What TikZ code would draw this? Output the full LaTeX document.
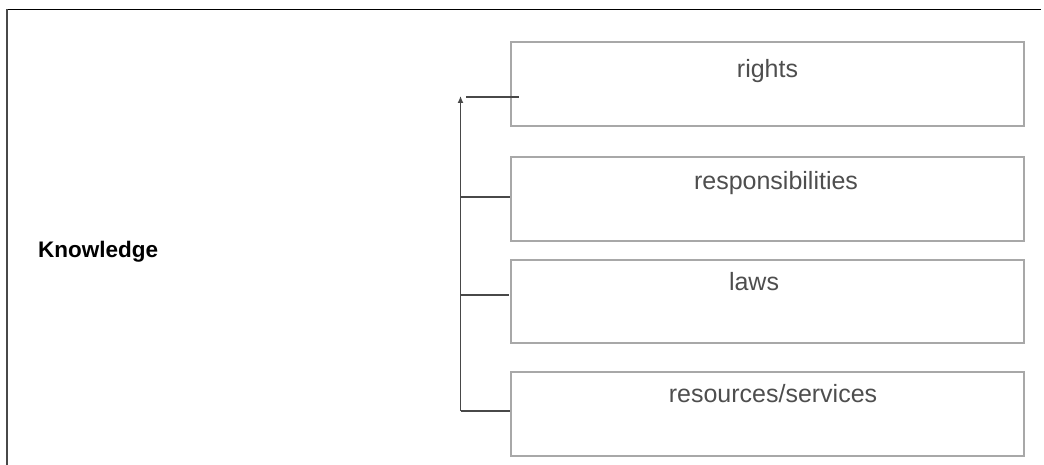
\documentclass[tikz,border=0pt]{standalone}
\usepackage{fontspec}
\setmainfont{Liberation Sans}
\usetikzlibrary{arrows.meta}
\definecolor{boxgray}{HTML}{A8A8A8}
\definecolor{linegray}{HTML}{484848}
\definecolor{txtgray}{HTML}{4E4E4E}
\tikzset{
  itembox/.style={draw=boxgray, line width=1.6pt, inner sep=0pt},
  itemtext/.style={text=txtgray, font=\fontsize{25}{29}\selectfont, anchor=base, inner sep=0pt},
  conn/.style={draw=linegray, line width=1.3pt},
  frame/.style={line width=1.6pt}
}
\begin{document}
\begin{tikzpicture}[x=1pt,y=-1pt]
\useasboundingbox (0,0) rectangle (1044,465);
% frame
\draw[frame, black] (7,9.5) -- (1041,9.5);
\draw[frame, linegray] (7,9.5) -- (7,465);
% boxes
\node[itembox, minimum width=513pt, minimum height=84pt] (b1) at (767.5,84) {};
\node[itembox, minimum width=513pt, minimum height=84pt] (b2) at (767.5,199) {};
\node[itembox, minimum width=513pt, minimum height=83pt] (b3) at (767.5,301.5) {};
\node[itembox, minimum width=513pt, minimum height=84pt] (b4) at (767.5,414) {};
% texts
\node[itemtext] (t1) at (767.5,78) {rights};
\node[itemtext] (t2) at (776,190) {responsibilities};
\node[itemtext] (t3) at (754,290) {laws};
\node[itemtext] (t4) at (773,402) {resources/services};
\node[anchor=base west, inner sep=0pt, font=\bfseries\fontsize{22.5}{27}\selectfont] (k) at (38,258) {Knowledge};
% connectors
\coordinate (vb) at (460.5,411);
\coordinate (vt) at (460.5,96);
\coordinate (h1a) at (466,97);
\coordinate (h1b) at (519,97);
\coordinate (h2) at (460.5,197);
\coordinate (h3) at (460.5,295);
\coordinate (h3e) at (509,295);
\draw[conn, -{Latex[length=7pt,width=6pt]}] (vb) -- (vt);
\draw[conn] (h1a) -- (h1b);
\draw[conn] (h2) -- (h2 -| b2.west);
\draw[conn] (h3) -- (h3e);
\draw[conn] (vb) -- (vb -| b4.west);
\end{tikzpicture}
\end{document}
